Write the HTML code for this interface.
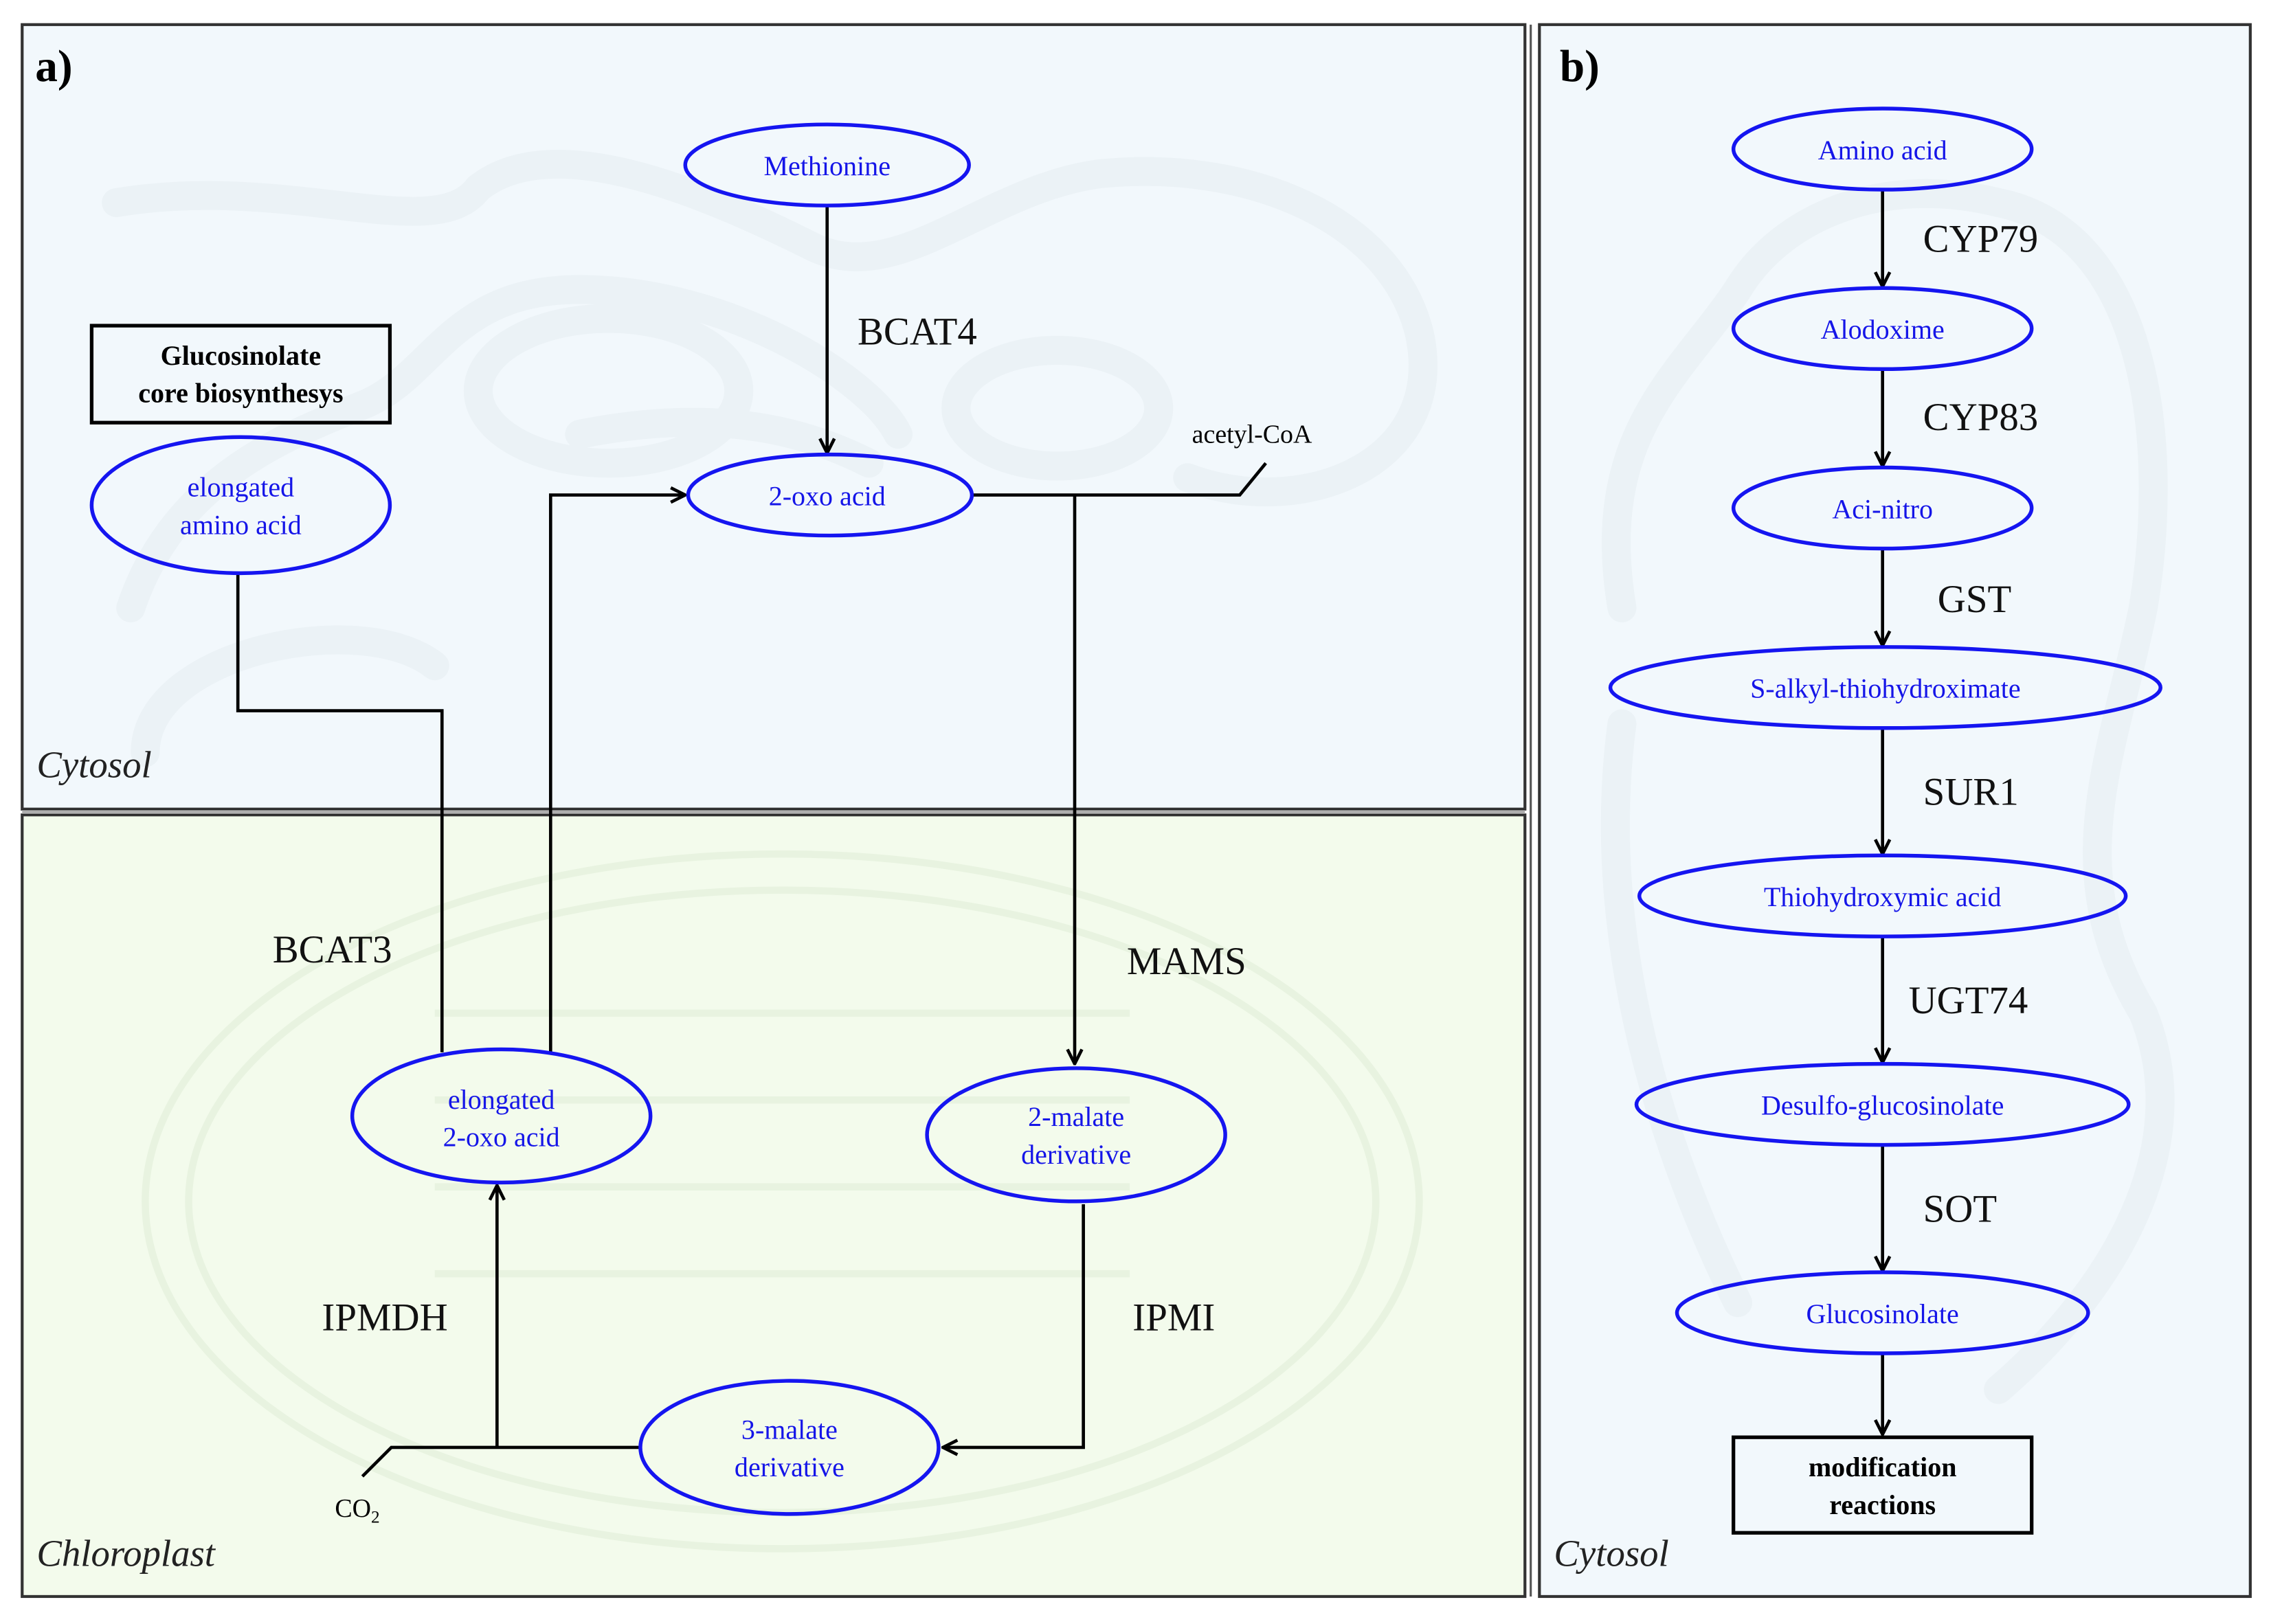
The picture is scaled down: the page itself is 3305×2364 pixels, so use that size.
<!DOCTYPE html>
<html><head><meta charset="utf-8"><style>
html,body{margin:0;padding:0;background:#fff}
svg{display:block}
text{font-family:"Liberation Serif",serif}
.n{fill:none;stroke:#1515f0;stroke-width:2.6}
.l{fill:none;stroke:#000;stroke-width:2.2}
.bt{fill:#1515e8;font-size:19px;text-anchor:middle}
.lb{fill:#111;font-size:27px}
.w{fill:none;stroke:#ebf2f6;stroke-width:20;stroke-linecap:round}
.wg{fill:none;stroke:#e8f3e0;stroke-width:5}
</style></head><body>
<svg width="3305" height="2364" viewBox="0 0 1568 1122" xmlns="http://www.w3.org/2000/svg">
<defs><marker id="a" viewBox="0 0 12 12" refX="11" refY="6" markerWidth="12" markerHeight="12" markerUnits="userSpaceOnUse" orient="auto"><path d="M1,1 L11,6 L1,11" fill="none" stroke="#000" stroke-width="2.2"/></marker></defs>
<rect x="0" y="0" width="1568" height="1122" fill="#fff"/>
<rect x="15" y="17" width="1038" height="542" fill="#f2f8fc" stroke="#333" stroke-width="2"/>
<rect x="15" y="563" width="1038" height="540" fill="#f3fbec" stroke="#333" stroke-width="2"/>
<line x1="15" y1="561" x2="1053" y2="561" stroke="#888" stroke-width="1"/>
<path class="w" d="M80,140 C200,120 300,170 330,130 C380,90 480,130 560,170 C620,200 680,130 760,120 C860,110 960,150 980,230 C1000,320 900,360 820,330 M90,420 C120,330 200,300 250,280 C300,260 310,200 400,200 C500,200 600,260 620,300 M400,300 C500,280 560,300 600,320 M100,520 C100,450 250,420 300,460"/>
<ellipse class="w" cx="420" cy="270" rx="90" ry="50"/>
<ellipse class="w" cx="730" cy="282" rx="70" ry="40"/>
<ellipse class="wg" cx="540" cy="830" rx="440" ry="240"/>
<ellipse class="wg" cx="540" cy="830" rx="410" ry="215"/>
<path class="wg" d="M300,700 H780 M300,760 H780 M300,820 H780 M300,880 H780"/>
<rect x="1063" y="17" width="491" height="1086" fill="#f2f8fc" stroke="#333" stroke-width="2"/>
<line x1="1057" y1="17" x2="1057" y2="1103" stroke="#555" stroke-width="1.5"/>
<path class="w" d="M1120,420 C1100,300 1160,260 1200,200 C1230,150 1300,120 1380,140 C1480,160 1500,300 1480,420 C1460,520 1420,600 1480,700 C1520,800 1450,900 1380,960 M1120,500 C1100,650 1150,800 1200,900"/>
<text x="24" y="56" font-size="31" font-weight="bold" fill="#000">a)</text>
<text x="1077" y="56" font-size="31" font-weight="bold" fill="#000">b)</text>
<text x="25" y="537" font-size="26" font-style="italic" fill="#222">Cytosol</text>
<text x="25" y="1082" font-size="26" font-style="italic" fill="#222">Chloroplast</text>
<text x="1073" y="1082" font-size="26" font-style="italic" fill="#222">Cytosol</text>
<rect x="63" y="225" width="206" height="67" fill="none" stroke="#000" stroke-width="2.5"/>
<text x="166" y="252" font-size="19" font-weight="bold" text-anchor="middle">Glucosinolate</text>
<text x="166" y="278" font-size="19" font-weight="bold" text-anchor="middle">core biosynthesys</text>
<path class="l" d="M571,142 V313" marker-end="url(#a)"/>
<path class="l" d="M671,342 H856 L874,320"/>
<path class="l" d="M742,342 V735" marker-end="url(#a)"/>
<path class="l" d="M164,396 V491 H305 V727"/>
<path class="l" d="M380,727 V342 H473" marker-end="url(#a)"/>
<path class="l" d="M748,832 V1000 H651" marker-end="url(#a)"/>
<path class="l" d="M442,1000 H270 L250,1020"/>
<path class="l" d="M343,1000 V819" marker-end="url(#a)"/>
<ellipse class="n" cx="571" cy="114" rx="98" ry="28"/><text class="bt" x="571" y="121">Methionine</text>
<ellipse class="n" cx="573" cy="342" rx="98" ry="28"/><text class="bt" x="571" y="349">2-oxo acid</text>
<ellipse class="n" cx="166" cy="349" rx="103" ry="47"/><text class="bt" x="166" y="343">elongated</text><text class="bt" x="166" y="369">amino acid</text>
<ellipse class="n" cx="346" cy="771" rx="103" ry="46"/><text class="bt" x="346" y="766">elongated</text><text class="bt" x="346" y="792">2-oxo acid</text>
<ellipse class="n" cx="743" cy="784" rx="103" ry="46"/><text class="bt" x="743" y="778">2-malate</text><text class="bt" x="743" y="804">derivative</text>
<ellipse class="n" cx="545" cy="1000" rx="103" ry="46"/><text class="bt" x="545" y="994">3-malate</text><text class="bt" x="545" y="1020">derivative</text>
<text class="lb" x="592" y="238">BCAT4</text>
<text x="823" y="306" font-size="18">acetyl-CoA</text>
<text class="lb" x="778" y="673">MAMS</text>
<text class="lb" x="188" y="665">BCAT3</text>
<text class="lb" x="782" y="919">IPMI</text>
<text class="lb" x="222" y="919">IPMDH</text>
<text x="231" y="1048" font-size="18">CO<tspan font-size="12" dy="4">2</tspan></text>
<path class="l" d="M1300,131 V198" marker-end="url(#a)"/>
<path class="l" d="M1300,255 V322" marker-end="url(#a)"/>
<path class="l" d="M1300,379 V446" marker-end="url(#a)"/>
<path class="l" d="M1300,503 V590" marker-end="url(#a)"/>
<path class="l" d="M1300,647 V734" marker-end="url(#a)"/>
<path class="l" d="M1300,791 V878" marker-end="url(#a)"/>
<path class="l" d="M1300,935 V991" marker-end="url(#a)"/>
<ellipse class="n" cx="1300" cy="103" rx="103" ry="28"/><text class="bt" x="1300" y="110">Amino acid</text>
<ellipse class="n" cx="1300" cy="227" rx="103" ry="28"/><text class="bt" x="1300" y="234">Alodoxime</text>
<ellipse class="n" cx="1300" cy="351" rx="103" ry="28"/><text class="bt" x="1300" y="358">Aci-nitro</text>
<ellipse class="n" cx="1302" cy="475" rx="190" ry="28"/><text class="bt" x="1302" y="482">S-alkyl-thiohydroximate</text>
<ellipse class="n" cx="1300" cy="619" rx="168" ry="28"/><text class="bt" x="1300" y="626">Thiohydroxymic acid</text>
<ellipse class="n" cx="1300" cy="763" rx="170" ry="28"/><text class="bt" x="1300" y="770">Desulfo-glucosinolate</text>
<ellipse class="n" cx="1300" cy="907" rx="142" ry="28"/><text class="bt" x="1300" y="914">Glucosinolate</text>
<rect x="1197" y="993" width="206" height="66" fill="none" stroke="#000" stroke-width="2.5"/>
<text x="1300" y="1020" font-size="19" font-weight="bold" text-anchor="middle">modification</text>
<text x="1300" y="1046" font-size="19" font-weight="bold" text-anchor="middle">reactions</text>
<text class="lb" x="1328" y="174">CYP79</text>
<text class="lb" x="1328" y="297">CYP83</text>
<text class="lb" x="1338" y="423">GST</text>
<text class="lb" x="1328" y="556">SUR1</text>
<text class="lb" x="1318" y="700">UGT74</text>
<text class="lb" x="1328" y="844">SOT</text>
</svg>
</body></html>
